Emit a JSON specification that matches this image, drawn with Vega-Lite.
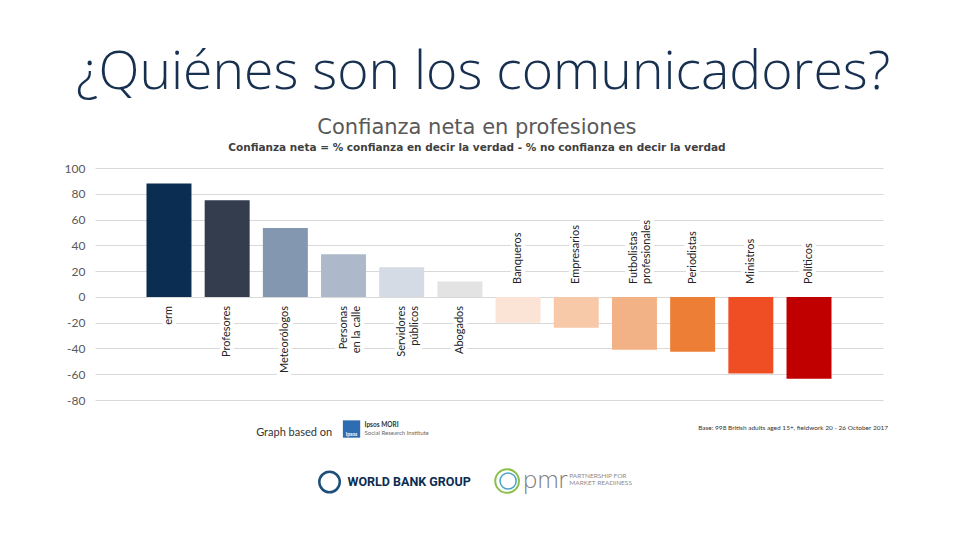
{
  "$schema": "https://vega.github.io/schema/vega-lite/v6.json",
  "autosize": {"type": "none"},
  "width": 788,
  "height": 232,
  "padding": {"left": 95, "top": 168, "right": 77, "bottom": 140},
  "background": "white",
  "config": {
    "view": {"stroke": null},
    "text": {"font": "Lato"}
  },
  "data": {
    "values": [
      {"p": "erm", "lab": "erm", "v": 88},
      {"p": "Profesores", "lab": "Profesores", "v": 75},
      {"p": "Meteorologos", "lab": "Meteorólogos", "v": 53.5},
      {"p": "Personas", "lab": "Personas\nen la calle", "v": 33},
      {"p": "Servidores", "lab": "Servidores\npúblicos", "v": 23},
      {"p": "Abogados", "lab": "Abogados", "v": 12},
      {"p": "Banqueros", "lab": "Banqueros", "v": -20},
      {"p": "Empresarios", "lab": "Empresarios", "v": -24},
      {"p": "Futbolistas", "lab": "Futbolistas\nprofesionales", "v": -41},
      {"p": "Periodistas", "lab": "Periodistas", "v": -42.5},
      {"p": "Ministros", "lab": "Ministros", "v": -59.5},
      {"p": "Politicos", "lab": "Políticos", "v": -63.5}
    ]
  },
  "encoding": {
    "x": {
      "field": "p",
      "type": "nominal",
      "sort": null,
      "axis": null,
      "scale": {"paddingInner": 0.227, "paddingOuter": 0.885}
    },
    "y": {
      "field": "v",
      "type": "quantitative",
      "scale": {"domain": [-80, 100], "nice": false, "zero": false},
      "axis": {
        "values": [-80, -60, -40, -20, 0, 20, 40, 60, 80, 100],
        "labelExpr": "datum.value + ''",
        "title": null,
        "domain": false,
        "ticks": false,
        "grid": true,
        "gridColor": "#d9d9d9",
        "labelColor": "#595959",
        "labelFont": "Lato",
        "labelFontSize": 12,
        "labelPadding": 10
      }
    }
  },
  "layer": [
    {
      "mark": {"type": "bar"},
      "encoding": {
        "color": {
          "field": "p",
          "type": "nominal",
          "legend": null,
          "scale": {
            "domain": ["erm", "Profesores", "Meteorologos", "Personas", "Servidores", "Abogados", "Banqueros", "Empresarios", "Futbolistas", "Periodistas", "Ministros", "Politicos"],
            "range": ["#0b2d51", "#333d4e", "#8397b0", "#adb8ca", "#d5dbe4", "#e3e3e3", "#fbe3d5", "#f7c9a9", "#f3b286", "#ec7e35", "#ef4e25", "#c00000"]
          }
        }
      }
    },
    {
      "transform": [{"filter": "datum.v > 0"}],
      "mark": {"type": "text", "angle": 270, "align": "right", "baseline": "middle", "lineBreak": "\n", "yOffset": 9, "fontSize": 11, "fill": "white", "stroke": "white", "strokeWidth": 8, "strokeJoin": "round"},
      "encoding": {"y": {"datum": 0}, "text": {"field": "lab"}}
    },
    {
      "transform": [{"filter": "datum.v > 0"}],
      "mark": {"type": "text", "angle": 270, "align": "right", "baseline": "middle", "lineBreak": "\n", "yOffset": 9, "fontSize": 11, "color": "#222222"},
      "encoding": {"y": {"datum": 0}, "text": {"field": "lab"}}
    },
    {
      "transform": [{"filter": "datum.v < 0"}],
      "mark": {"type": "text", "angle": 270, "align": "left", "baseline": "middle", "lineBreak": "\n", "yOffset": -13, "fontSize": 11, "fill": "white", "stroke": "white", "strokeWidth": 8, "strokeJoin": "round"},
      "encoding": {"y": {"datum": 0}, "text": {"field": "lab"}}
    },
    {
      "transform": [{"filter": "datum.v < 0"}],
      "mark": {"type": "text", "angle": 270, "align": "left", "baseline": "middle", "lineBreak": "\n", "yOffset": -13, "fontSize": 11, "color": "#222222"},
      "encoding": {"y": {"datum": 0}, "text": {"field": "lab"}}
    },
    {
      "transform": [{"filter": "datum.p == 'erm'"}],
      "mark": {"type": "text", "align": "left", "baseline": "alphabetic", "xOffset": -93, "yOffset": -79, "font": "Open Sans", "fontWeight": 300, "fontSize": 53.5, "color": "#17304f"},
      "encoding": {"y": {"datum": 100}, "text": {"value": "¿Quiénes son los comunicadores?"}}
    },
    {
      "transform": [{"filter": "datum.p == 'Abogados'"}],
      "mark": {"type": "text", "align": "center", "baseline": "alphabetic", "xOffset": 17, "yOffset": -34, "font": "DejaVu Sans", "fontSize": 21, "color": "#595959"},
      "encoding": {"y": {"datum": 100}, "text": {"value": "Confianza neta en profesiones"}}
    },
    {
      "transform": [{"filter": "datum.p == 'Abogados'"}],
      "mark": {"type": "text", "align": "center", "baseline": "alphabetic", "xOffset": 17, "yOffset": -17, "font": "DejaVu Sans", "fontSize": 10.5, "fontWeight": "bold", "color": "#404040"},
      "encoding": {"y": {"datum": 100}, "text": {"value": "Confianza neta = % confianza en decir la verdad - % no confianza en decir la verdad"}}
    },
    {
      "transform": [{"filter": "datum.p == 'Profesores'"}],
      "mark": {"type": "text", "align": "left", "baseline": "alphabetic", "xOffset": 29, "yOffset": 36, "fontSize": 11, "color": "#333333"},
      "encoding": {"y": {"datum": -80}, "text": {"value": "Graph based on"}}
    },
    {
      "transform": [{"filter": "datum.p == 'Personas'"}],
      "mark": {"type": "point", "shape": "square", "filled": true, "size": 300, "xOffset": 8, "yOffset": 29, "color": "#2f6db3", "opacity": 1},
      "encoding": {"y": {"datum": -80}}
    },
    {
      "transform": [{"filter": "datum.p == 'Personas'"}],
      "mark": {"type": "text", "align": "center", "baseline": "alphabetic", "xOffset": 8, "yOffset": 36, "fontSize": 5, "fontWeight": "bold", "color": "white"},
      "encoding": {"y": {"datum": -80}, "text": {"value": "Ipsos"}}
    },
    {
      "transform": [{"filter": "datum.p == 'Personas'"}],
      "mark": {"type": "text", "align": "left", "baseline": "alphabetic", "xOffset": 21, "yOffset": 27, "fontSize": 6.5, "fontWeight": "bold", "color": "#333333"},
      "encoding": {"y": {"datum": -80}, "text": {"value": "Ipsos MORI"}}
    },
    {
      "transform": [{"filter": "datum.p == 'Personas'"}],
      "mark": {"type": "text", "align": "left", "baseline": "alphabetic", "xOffset": 21, "yOffset": 35, "fontSize": 6, "color": "#666666"},
      "encoding": {"y": {"datum": -80}, "text": {"value": "Social Research Institute"}}
    },
    {
      "transform": [{"filter": "datum.p == 'Politicos'"}],
      "mark": {"type": "text", "align": "right", "baseline": "alphabetic", "xOffset": 79, "yOffset": 30, "fontSize": 6.5, "color": "#333333"},
      "encoding": {"y": {"datum": -80}, "text": {"value": "Base: 998 British adults aged 15+, fieldwork 20 - 26 October 2017"}}
    },
    {
      "transform": [{"filter": "datum.p == 'Personas'"}],
      "mark": {"type": "point", "shape": "circle", "filled": false, "size": 420, "strokeWidth": 2.5, "xOffset": -14, "yOffset": 82, "color": "#1d4f7a", "opacity": 1},
      "encoding": {"y": {"datum": -80}}
    },
    {
      "transform": [{"filter": "datum.p == 'Personas'"}],
      "mark": {"type": "text", "align": "left", "baseline": "middle", "xOffset": 4, "yOffset": 82, "font": "Roboto", "fontSize": 12.5, "fontWeight": "bold", "color": "#0b2d51"},
      "encoding": {"y": {"datum": -80}, "text": {"value": "WORLD BANK GROUP"}}
    },
    {
      "transform": [{"filter": "datum.p == 'Banqueros'"}],
      "mark": {"type": "point", "shape": "circle", "filled": false, "size": 560, "strokeWidth": 2, "xOffset": -11, "yOffset": 81, "color": "#8cbf4a", "opacity": 1},
      "encoding": {"y": {"datum": -80}}
    },
    {
      "transform": [{"filter": "datum.p == 'Banqueros'"}],
      "mark": {"type": "point", "shape": "circle", "filled": false, "size": 260, "strokeWidth": 1.5, "xOffset": -10, "yOffset": 81, "color": "#4aa3c9", "opacity": 1},
      "encoding": {"y": {"datum": -80}}
    },
    {
      "transform": [{"filter": "datum.p == 'Banqueros'"}],
      "mark": {"type": "text", "align": "left", "baseline": "alphabetic", "xOffset": 5, "yOffset": 88, "font": "Open Sans", "fontWeight": 300, "fontSize": 24, "color": "#7f7f7f"},
      "encoding": {"y": {"datum": -80}, "text": {"value": "pmr"}}
    },
    {
      "transform": [{"filter": "datum.p == 'Empresarios'"}],
      "mark": {"type": "text", "align": "left", "baseline": "alphabetic", "lineBreak": "\n", "lineHeight": 7, "xOffset": -7, "yOffset": 78, "fontSize": 6.5, "color": "#8c8c8c"},
      "encoding": {"y": {"datum": -80}, "text": {"value": "PARTNERSHIP FOR\nMARKET READINESS"}}
    }
  ]
}
